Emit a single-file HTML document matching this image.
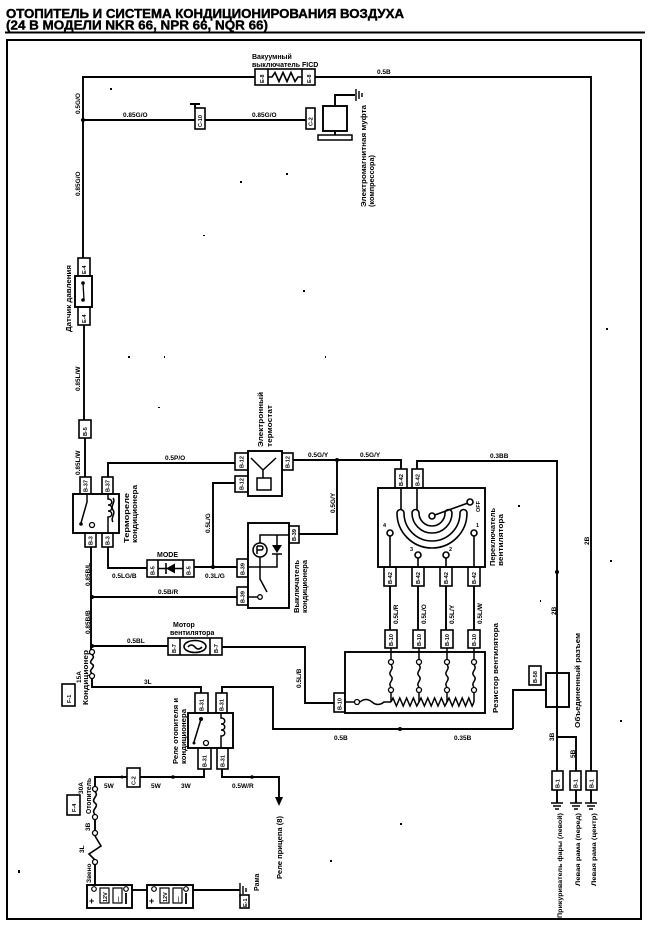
<!DOCTYPE html>
<html><head><meta charset="utf-8">
<style>
html,body{margin:0;padding:0;background:#fff;}
svg{display:block;}
text{font-family:"Liberation Sans","DejaVu Sans",sans-serif;font-weight:bold;fill:#000;stroke:none;}
.l{font-size:6.5px;}
.c{font-size:7px;}
.t{font-size:5.5px;}
</style></head><body>
<svg width="650" height="928" viewBox="0 0 650 928" xmlns="http://www.w3.org/2000/svg">
<rect x="0" y="0" width="650" height="928" fill="#fff"/>

<!-- Title -->
<text x="6" y="18" font-size="12.8" textLength="398" lengthAdjust="spacingAndGlyphs" style="stroke:#000;stroke-width:0.4">ОТОПИТЕЛЬ И СИСТЕМА КОНДИЦИОНИРОВАНИЯ ВОЗДУХА</text>
<text x="6" y="29.5" font-size="12.8" textLength="262" lengthAdjust="spacingAndGlyphs" style="stroke:#000;stroke-width:0.4">(24 В МОДЕЛИ NKR 66, NPR 66, NQR 66)</text>
<line x1="5" y1="32.5" x2="645" y2="32.5" stroke="#000" stroke-width="2"/>
<rect x="7" y="40" width="634" height="879" fill="none" stroke="#000" stroke-width="2"/>

<!-- Wires -->
<g fill="none" stroke="#000" stroke-width="1.9">
<path d="M83,120 V77 H255"/>
<path d="M315,77 H591 V771"/>
<path d="M83,120 H195"/>
<path d="M205,120 H306"/>
<path d="M83,120 V258"/>
<path d="M84,325 V420"/>
<path d="M85,438 V477"/>
<path d="M108,477 V463 H235"/>
<path d="M235,483 H213 V567"/>
<path d="M293,460 H401 V469"/>
<path d="M337,460 V534 H299"/>
<path d="M108,547 V568 H147"/>
<path d="M194,567 H237"/>
<path d="M91,547 V650"/>
<path d="M92,597 H237"/>
<path d="M92,646 H168"/>
<path d="M222,647 H305 V703 H334"/>
<path d="M390,586 V630 M418,586 V630 M446,586 V630 M474,586 V630"/>
<path d="M417,469 V461 H557 V771"/>
<path d="M513,729 V690 H546"/>
<path d="M557,737 H576 V771"/>
<path d="M92,679 V687 H201 V693"/>
<path d="M222,693 V687 H273 V729 H513"/>
<path d="M204,769 V777 H95 V787"/>
<path d="M222,769 V777 H279 V798"/>
<path d="M95,819 V831"/>
<path d="M95,864 V885"/>
<path d="M132,890 H147"/>
<path d="M193,890 H240"/>
<path d="M335,106 V95 H355"/>
<path d="M335,131 V135"/>
<path d="M557,790 V803 M576,790 V803 M591,790 V803"/>
<path d="M190,104 H200 M195,104 V108" stroke-width="2"/>
</g>
<polygon points="275,797 283,797 279,806" fill="#000"/>

<!-- Junction dots -->
<g fill="#000">
<circle cx="83" cy="120" r="2"/>
<circle cx="337" cy="460" r="2"/>
<circle cx="213" cy="567" r="2"/>
<circle cx="92" cy="597" r="2"/>
<circle cx="92" cy="646" r="2"/>
<circle cx="400" cy="729" r="2"/>
<circle cx="557" cy="572" r="2"/>
<circle cx="173" cy="777" r="1.8"/>
<circle cx="252" cy="777" r="1.8"/>
<circle cx="122" cy="777" r="1.5"/>
</g>

<!-- Ground symbols -->
<g stroke="#000" stroke-width="1.4" fill="none">
<path d="M356,89 V101 M359,91 V99 M362,93 V97"/>
<path d="M551,803 H563 M553,806 H561 M555,809 H559"/>
<path d="M570,803 H582 M572,806 H580 M574,809 H578"/>
<path d="M585,803 H597 M587,806 H595 M589,809 H593"/>
<path d="M240,883 V897 M243,886 V894 M246,888 V892"/>
</g>

<!-- Connectors -->
<g fill="#fff" stroke="#000" stroke-width="1.6">
<rect x="195" y="108" width="10" height="21"/>
<rect x="306" y="108" width="9" height="21"/>
<rect x="78" y="258" width="12" height="18"/>
<rect x="78" y="307" width="12" height="18"/>
<rect x="79" y="420" width="12" height="18"/>
<rect x="80" y="477" width="11" height="17"/>
<rect x="102" y="477" width="11" height="17"/>
<rect x="85" y="533" width="11" height="14"/>
<rect x="102" y="533" width="11" height="14"/>
<rect x="235" y="453" width="13" height="17"/>
<rect x="235" y="476" width="13" height="16"/>
<rect x="282" y="453" width="11" height="17"/>
<rect x="289" y="526" width="10" height="17"/>
<rect x="237" y="559" width="11" height="18"/>
<rect x="237" y="587" width="11" height="18"/>
<rect x="395" y="469" width="12" height="19"/>
<rect x="412" y="469" width="11" height="19"/>
<rect x="384" y="567" width="12" height="19"/>
<rect x="412" y="567" width="12" height="19"/>
<rect x="440" y="567" width="12" height="19"/>
<rect x="468" y="567" width="12" height="19"/>
<rect x="385" y="630" width="12" height="18"/>
<rect x="413" y="630" width="12" height="18"/>
<rect x="441" y="630" width="12" height="18"/>
<rect x="468" y="630" width="12" height="18"/>
<rect x="334" y="693" width="11" height="19"/>
<rect x="195" y="693" width="13" height="20"/>
<rect x="216" y="693" width="11" height="20"/>
<rect x="198" y="748" width="13" height="21"/>
<rect x="217" y="748" width="11" height="21"/>
<rect x="127" y="768" width="13" height="19"/>
<rect x="529" y="666" width="12" height="19"/>
<rect x="552" y="771" width="11" height="19"/>
<rect x="570" y="771" width="11" height="19"/>
<rect x="586" y="771" width="11" height="19"/>
<rect x="62" y="684" width="13" height="22"/>
<rect x="67" y="795" width="13" height="20"/>
<rect x="240" y="895" width="9" height="13"/>
</g>
<!-- connector codes -->
<g>
<text class="t" transform="translate(202,127) rotate(-90)">C-10</text>
<text class="t" transform="translate(312.5,126) rotate(-90)">C-2</text>
<text class="t" transform="translate(86,274) rotate(-90)">E-4</text>
<text class="t" transform="translate(86,323) rotate(-90)">E-4</text>
<text class="t" transform="translate(87,436) rotate(-90)">B-5</text>
<text class="t" transform="translate(87.5,492) rotate(-90)">B-37</text>
<text class="t" transform="translate(109.5,492) rotate(-90)">B-37</text>
<text class="t" transform="translate(92.5,545) rotate(-90)">B-3</text>
<text class="t" transform="translate(109.5,545) rotate(-90)">B-3</text>
<text class="t" transform="translate(243.5,468) rotate(-90)">B-12</text>
<text class="t" transform="translate(243.5,490) rotate(-90)">B-12</text>
<text class="t" transform="translate(289.5,468) rotate(-90)">B-12</text>
<text class="t" transform="translate(296,541) rotate(-90)">B-39</text>
<text class="t" transform="translate(244.5,575) rotate(-90)">B-39</text>
<text class="t" transform="translate(244.5,603) rotate(-90)">B-39</text>
<text class="t" transform="translate(403,486) rotate(-90)">B-42</text>
<text class="t" transform="translate(419.5,486) rotate(-90)">B-42</text>
<text class="t" transform="translate(392,584) rotate(-90)">B-42</text>
<text class="t" transform="translate(420,584) rotate(-90)">B-42</text>
<text class="t" transform="translate(448,584) rotate(-90)">B-42</text>
<text class="t" transform="translate(476,584) rotate(-90)">B-42</text>
<text class="t" transform="translate(393,646) rotate(-90)">B-10</text>
<text class="t" transform="translate(421,646) rotate(-90)">B-10</text>
<text class="t" transform="translate(449,646) rotate(-90)">B-10</text>
<text class="t" transform="translate(476,646) rotate(-90)">B-10</text>
<text class="t" transform="translate(341.5,710) rotate(-90)">B-10</text>
<text class="t" transform="translate(203.5,711) rotate(-90)">B-31</text>
<text class="t" transform="translate(223.5,711) rotate(-90)">B-31</text>
<text class="t" transform="translate(206.5,767) rotate(-90)">B-31</text>
<text class="t" transform="translate(224.5,767) rotate(-90)">B-31</text>
<text class="t" transform="translate(135.5,785) rotate(-90)">C-2</text>
<text class="t" transform="translate(537,683) rotate(-90)">B-58</text>
<text class="t" transform="translate(559.5,788) rotate(-90)">B-1</text>
<text class="t" transform="translate(577.5,788) rotate(-90)">B-1</text>
<text class="t" transform="translate(593.5,788) rotate(-90)">B-1</text>
<text class="t" transform="translate(71,703) rotate(-90)" font-size="6">F-1</text>
<text class="t" transform="translate(76,812) rotate(-90)" font-size="6">F-4</text>
<text class="t" transform="translate(247,907) rotate(-90)">E-1</text>
</g>

<!-- FICD vacuum switch -->
<g fill="#fff" stroke="#000" stroke-width="1.6">
<rect x="255" y="69" width="60" height="16"/>
<path d="M268,69 V85 M302,69 V85" fill="none"/>
<path d="M268,77 H272 L275,72.5 L279,81.5 L283,72.5 L287,81.5 L291,72.5 L295,81.5 L298,77 H302" fill="none"/>
</g>
<text class="t" transform="translate(264,83) rotate(-90)">E-8</text>
<text class="t" transform="translate(311,83) rotate(-90)">E-8</text>
<text class="c" x="252" y="59">Вакуумный</text>
<text class="c" x="252" y="67">выключатель FICD</text>
<text class="l" x="377" y="74">0.5B</text>

<!-- Compressor clutch -->
<g fill="#fff" stroke="#000" stroke-width="1.9">
<rect x="323" y="106" width="24" height="25"/>
<rect x="318" y="135" width="34" height="5" stroke-width="1.5"/>
</g>
<text class="c" transform="translate(366,207) rotate(-90)" textLength="102" lengthAdjust="spacingAndGlyphs">Электромагнитная муфта</text>
<text class="c" transform="translate(374,207) rotate(-90)" textLength="52" lengthAdjust="spacingAndGlyphs">(компрессора)</text>
<text class="l" x="123" y="117">0.85G/O</text>
<text class="l" x="252" y="117">0.85G/O</text>

<!-- Pressure sensor -->
<rect x="75" y="276" width="17" height="31" fill="#fff" stroke="#000" stroke-width="1.9"/>
<circle cx="83" cy="283" r="1.8" fill="#000"/>
<circle cx="83" cy="300" r="1.8" fill="#000"/>
<line x1="83" y1="283" x2="84" y2="300" stroke="#000" stroke-width="1.3"/>
<text class="c" transform="translate(71,332) rotate(-90)" textLength="67" lengthAdjust="spacingAndGlyphs">Датчик давления</text>
<text class="l" transform="translate(80,114) rotate(-90)">0.5G/O</text>
<text class="l" transform="translate(80,196) rotate(-90)">0.85G/O</text>
<text class="l" transform="translate(80,391) rotate(-90)">0.85L/W</text>
<text class="l" transform="translate(80,475) rotate(-90)">0.85L/W</text>

<!-- Thermo relay -->
<rect x="73" y="494" width="46" height="39" fill="#fff" stroke="#000" stroke-width="1.9"/>
<g fill="none" stroke="#000" stroke-width="1.5">
<path d="M87,494 V502 L81,523"/>
<path d="M108,494 V499 c5,0 5,6 0,6 c5,0 5,6 0,6 c5,0 5,6 0,6 V533"/>
<path d="M113,498 c3,4 -3,8 0,12 c3,4 -3,8 0,12"/>
</g>
<circle cx="81" cy="524" r="1.8" fill="#000"/>
<circle cx="92" cy="525" r="2.5" fill="#fff" stroke="#000" stroke-width="1.3"/>
<text class="c" transform="translate(129,543) rotate(-90)" textLength="50" lengthAdjust="spacingAndGlyphs">Термореле</text>
<text class="c" transform="translate(137,543) rotate(-90)" textLength="58" lengthAdjust="spacingAndGlyphs">кондиционера</text>
<text class="l" x="165" y="460">0.5P/O</text>

<!-- Electronic thermostat -->
<rect x="248" y="451" width="34" height="45" fill="#fff" stroke="#000" stroke-width="1.9"/>
<path d="M251,458 L263,470 L276,458 M263,470 V478" fill="none" stroke="#000" stroke-width="1.5"/>
<rect x="257" y="478" width="14" height="12" fill="#fff" stroke="#000" stroke-width="1.5"/>
<text class="c" transform="translate(263,447) rotate(-90)" textLength="55" lengthAdjust="spacingAndGlyphs">Электронный</text>
<text class="c" transform="translate(272,447) rotate(-90)" textLength="42" lengthAdjust="spacingAndGlyphs">термостат</text>
<text class="l" x="308" y="457">0.5G/Y</text>
<text class="l" x="360" y="457">0.5G/Y</text>
<text class="l" transform="translate(335,513) rotate(-90)">0.5G/Y</text>
<text class="l" transform="translate(210,533) rotate(-90)">0.5L/G</text>

<!-- MODE diode -->
<g fill="#fff" stroke="#000" stroke-width="1.6">
<rect x="147" y="560" width="47" height="17"/>
<path d="M158,560 V577 M183,560 V577 M158,568.5 H183 M166,563 V574" fill="none"/>
</g>
<polygon points="166,568.5 175,563.5 175,573.5" fill="#000"/>
<text class="t" transform="translate(154.5,575) rotate(-90)">B-5</text>
<text class="t" transform="translate(190.5,575) rotate(-90)">B-5</text>
<text class="c" x="157" y="557">MODE</text>
<text class="l" x="112" y="578">0.5LG/B</text>
<text class="l" x="205" y="578">0.3L/G</text>

<!-- A/C switch -->
<rect x="248" y="523" width="41" height="85" fill="#fff" stroke="#000" stroke-width="1.9"/>
<g fill="none" stroke="#000" stroke-width="1.5">
<path d="M260,543 V535 H289 M277,535 V545 M277,554 V567 H248 M260,557 V567 M260,567 V579 L267,592 M258,597 H248"/>
<circle cx="260" cy="550" r="7"/>
<path d="M257,546 V554 M257,546 h4 a2,2 0 0 1 0,4 h-4"/>
<path d="M272,554 H282"/>
</g>
<polygon points="272,545 282,545 277,553" fill="#000"/>
<circle cx="260" cy="597" r="2.3" fill="#fff" stroke="#000" stroke-width="1.3"/>
<text class="c" transform="translate(299,613) rotate(-90)" textLength="53" lengthAdjust="spacingAndGlyphs">Выключатель</text>
<text class="c" transform="translate(307,613) rotate(-90)" textLength="53" lengthAdjust="spacingAndGlyphs">кондиционера</text>
<text class="l" transform="translate(90,586) rotate(-90)">0.85B/L</text>
<text class="l" transform="translate(90,634) rotate(-90)">0.85B/B</text>
<text class="l" x="158" y="594">0.5B/R</text>

<!-- Fan switch -->
<rect x="378" y="488" width="107" height="79" fill="#fff" stroke="#000" stroke-width="1.9"/>
<g fill="#fff" stroke="#000" stroke-width="1.6">
<path d="M401,488 V513 M417,488 V512" fill="none"/>
<path d="M397,513 A35,35 0 0 0 467,513 A3.5,3.5 0 0 0 460,513 A28,28 0 0 1 404,513 A3.5,3.5 0 0 0 397,513 Z"/>
<path d="M412,513 A20,20 0 0 0 452,513 A3.5,3.5 0 0 0 445,513 A13,13 0 0 1 419,513 A3.5,3.5 0 0 0 412,513 Z"/>
<path d="M432,516 L468,503" fill="none"/>
<circle cx="432" cy="516" r="3"/>
<circle cx="470" cy="502" r="3"/>
<path d="M390,536 V567 M418,558 V567 M446,558 V567 M474,536 V567" fill="none"/>
<circle cx="390" cy="533" r="3"/>
<circle cx="418" cy="555" r="3"/>
<circle cx="446" cy="555" r="3"/>
<circle cx="474" cy="533" r="3"/>
</g>
<text class="t" transform="translate(480,512) rotate(-90)">OFF</text>
<text class="t" x="383" y="527">4</text>
<text class="t" x="410" y="551">3</text>
<text class="t" x="449" y="551">2</text>
<text class="t" x="476" y="527">1</text>
<text class="c" transform="translate(495,566) rotate(-90)" textLength="58" lengthAdjust="spacingAndGlyphs">Переключатель</text>
<text class="c" transform="translate(503,566) rotate(-90)" textLength="52" lengthAdjust="spacingAndGlyphs">вентилятора</text>
<text class="l" x="490" y="458">0.3BB</text>
<text class="l" transform="translate(398,624) rotate(-90)">0.5L/R</text>
<text class="l" transform="translate(426,624) rotate(-90)">0.5L/O</text>
<text class="l" transform="translate(454,624) rotate(-90)">0.5L/Y</text>
<text class="l" transform="translate(482,624) rotate(-90)">0.5L/W</text>

<!-- Fan resistor -->
<rect x="345" y="652" width="140" height="61" fill="#fff" stroke="#000" stroke-width="1.9"/>
<g fill="none" stroke="#000" stroke-width="1.5">
<path d="M391,648 V659 M391,665 c4,4 -4,7 0,11 c4,4 -4,7 0,11 M391,693 V702"/>
<path d="M419,648 V659 M419,665 c4,4 -4,7 0,11 c4,4 -4,7 0,11 M419,693 V702"/>
<path d="M447,648 V659 M447,665 c4,4 -4,7 0,11 c4,4 -4,7 0,11 M447,693 V702"/>
<path d="M474,648 V659 M474,665 c4,4 -4,7 0,11 c4,4 -4,7 0,11 M474,693 V702"/>
<path d="M345,702 H354 M360,702 q6,-5 12,0 q6,5 12,0 H391"/>
<path d="M391,702 l2,-4 l3.4,8 l3.4,-8 l3.4,8 l3.4,-8 l3.4,8 l3.4,-8 l3.4,8 l2.2,-4"/>
<path d="M419,702 l2,-4 l3.4,8 l3.4,-8 l3.4,8 l3.4,-8 l3.4,8 l3.4,-8 l3.4,8 l2.2,-4"/>
<path d="M447,702 l2,-4 l3.3,8 l3.3,-8 l3.3,8 l3.3,-8 l3.3,8 l3.3,-8 l3.3,8 l1.9,-4"/>
</g>
<g fill="#fff" stroke="#000" stroke-width="1.3">
<circle cx="391" cy="662" r="2.5"/><circle cx="391" cy="690" r="2.5"/>
<circle cx="419" cy="662" r="2.5"/><circle cx="419" cy="690" r="2.5"/>
<circle cx="447" cy="662" r="2.5"/><circle cx="447" cy="690" r="2.5"/>
<circle cx="474" cy="662" r="2.5"/><circle cx="474" cy="690" r="2.5"/>
<circle cx="357" cy="702" r="2.5"/>
</g>
<text class="c" transform="translate(498,713) rotate(-90)" textLength="90" lengthAdjust="spacingAndGlyphs">Резистор вентилятора</text>
<text class="l" transform="translate(301,688) rotate(-90)">0.5L/B</text>

<!-- Fan motor -->
<g fill="#fff" stroke="#000" stroke-width="1.6">
<rect x="168" y="638" width="54" height="17"/>
<path d="M180,638 V655 M210,638 V655" fill="none"/>
<ellipse cx="195" cy="646.5" rx="11" ry="6"/>
<path d="M188,647 q3,-4 7,0 q3,4 7,0" fill="none"/>
</g>
<text class="t" transform="translate(176,653) rotate(-90)">B-7</text>
<text class="t" transform="translate(218,653) rotate(-90)">B-7</text>
<text class="c" x="173" y="627">Мотор</text>
<text class="c" x="170" y="635">вентилятора</text>
<text class="l" x="127" y="643">0.5BL</text>

<!-- Right side labels -->
<text class="l" transform="translate(589,545) rotate(-90)">2B</text>
<text class="l" transform="translate(556,615) rotate(-90)">2B</text>
<rect x="546" y="673" width="23" height="34" fill="none" stroke="#000" stroke-width="1.9"/>
<text class="c" transform="translate(580,728) rotate(-90)" textLength="95" lengthAdjust="spacingAndGlyphs">Объединенный разъем</text>
<text class="l" transform="translate(554,741) rotate(-90)">3B</text>
<text class="l" transform="translate(575,758) rotate(-90)">5B</text>
<text class="l" x="334" y="740">0.5B</text>
<text class="l" x="454" y="740">0.35B</text>

<!-- Fuses -->
<g fill="none" stroke="#000" stroke-width="1.6">
<path d="M92,655 c5,3 -5,6 0,9 c5,3 -5,6 0,9"/>
<path d="M95,792 c5,3.5 -5,7 0,11 c5,3.5 -5,7 0,11"/>
<path d="M95,836 L101,846 L89,854 L95,860"/>
</g>
<g fill="#fff" stroke="#000" stroke-width="1.3">
<circle cx="92" cy="652" r="2.5"/><circle cx="92" cy="676" r="2.5"/>
<circle cx="95" cy="789" r="2.5"/><circle cx="95" cy="817" r="2.5"/>
<circle cx="95" cy="833" r="2.5"/><circle cx="95" cy="862" r="2.5"/>
</g>
<text class="l" transform="translate(81,683) rotate(-90)">15A</text>
<text class="c" transform="translate(88,705) rotate(-90)" textLength="55" lengthAdjust="spacingAndGlyphs">Кондиционер</text>
<text class="l" x="144" y="684">3L</text>

<!-- Heater relay -->
<rect x="188" y="713" width="45" height="35" fill="#fff" stroke="#000" stroke-width="1.9"/>
<g fill="none" stroke="#000" stroke-width="1.5">
<path d="M201,719 L194,742"/>
<path d="M221,713 V718 c5,0 5,6 0,6 c5,0 5,6 0,6 c5,0 5,6 0,6 V748"/>
</g>
<circle cx="201" cy="719" r="2" fill="#000"/>
<circle cx="194" cy="743" r="1.5" fill="#000"/>
<circle cx="206" cy="743" r="2.5" fill="#fff" stroke="#000" stroke-width="1.3"/>
<text class="c" transform="translate(178,764) rotate(-90)" textLength="66" lengthAdjust="spacingAndGlyphs">Реле отопителя и</text>
<text class="c" transform="translate(186,764) rotate(-90)" textLength="55" lengthAdjust="spacingAndGlyphs">кондиционера</text>

<text class="l" x="104" y="788">5W</text>
<text class="l" x="151" y="788">5W</text>
<text class="l" x="181" y="788">3W</text>
<text class="l" x="232" y="788">0.5W/R</text>
<text class="c" transform="translate(282,879) rotate(-90)" textLength="63" lengthAdjust="spacingAndGlyphs">Реле прицепа (8)</text>

<!-- Heater fuse labels -->
<text class="l" transform="translate(83,794) rotate(-90)">30A</text>
<text class="c" transform="translate(91,814) rotate(-90)" textLength="36" lengthAdjust="spacingAndGlyphs">Отопитель</text>
<text class="l" transform="translate(90,831) rotate(-90)">3B</text>
<text class="l" transform="translate(84,853) rotate(-90)">3L</text>
<text class="l" transform="translate(91,883) rotate(-90)">Звено</text>

<!-- Batteries -->
<g fill="#fff" stroke="#000" stroke-width="1.9">
<rect x="87" y="885" width="45" height="23"/>
<rect x="147" y="885" width="46" height="23"/>
</g>
<g fill="#fff" stroke="#000" stroke-width="1.2">
<circle cx="94" cy="889" r="2.3"/><rect x="100" y="888" width="9" height="15"/><rect x="113" y="888" width="9" height="15"/><circle cx="126" cy="889" r="2.3"/>
<circle cx="154" cy="889" r="2.3"/><rect x="160" y="888" width="9" height="15"/><rect x="173" y="888" width="9" height="15"/><circle cx="186" cy="889" r="2.3"/>
<path d="M126,893 V904 M186,893 V904" fill="none" stroke-width="1.8"/>
</g>
<text x="89" y="904" font-size="9">+</text>
<text x="149" y="904" font-size="9">+</text>
<text class="t" transform="translate(107,902) rotate(-90)">12V</text>
<text class="t" transform="translate(120,902) rotate(-90)">—</text>
<text class="t" transform="translate(167,902) rotate(-90)">12V</text>
<text class="t" transform="translate(180,902) rotate(-90)">—</text>
<text class="c" transform="translate(259,891) rotate(-90)">Рама</text>

<!-- Bottom right ground labels -->
<text class="l" transform="translate(562,918) rotate(-90)" textLength="105" lengthAdjust="spacingAndGlyphs">Прикуриватель фары (левой)</text>
<text class="l" transform="translate(580,886) rotate(-90)" textLength="73" lengthAdjust="spacingAndGlyphs">Левая рама (перед)</text>
<text class="l" transform="translate(596,886) rotate(-90)" textLength="73" lengthAdjust="spacingAndGlyphs">Левая рама (центр)</text>

<!-- scan specks -->
<g fill="#000">
<rect x="240" y="181" width="2" height="2"/>
<rect x="203" y="235" width="2" height="1"/>
<rect x="128" y="356" width="2" height="2"/>
<rect x="164" y="356" width="1" height="2"/>
<rect x="158" y="407" width="2" height="1"/>
<rect x="303" y="290" width="2" height="2"/>
<rect x="325" y="356" width="1" height="2"/>
<rect x="110" y="88" width="2" height="2"/>
<rect x="286" y="173" width="2" height="2"/>
<rect x="606" y="328" width="2" height="2"/>
<rect x="518" y="505" width="2" height="2"/>
<rect x="540" y="600" width="1" height="2"/>
<rect x="610" y="560" width="2" height="2"/>
<rect x="620" y="720" width="2" height="2"/>
<rect x="400" y="823" width="2" height="2"/>
<rect x="330" y="860" width="2" height="2"/>
<rect x="18" y="870" width="2" height="3"/>
</g>
</svg>
</body></html>
